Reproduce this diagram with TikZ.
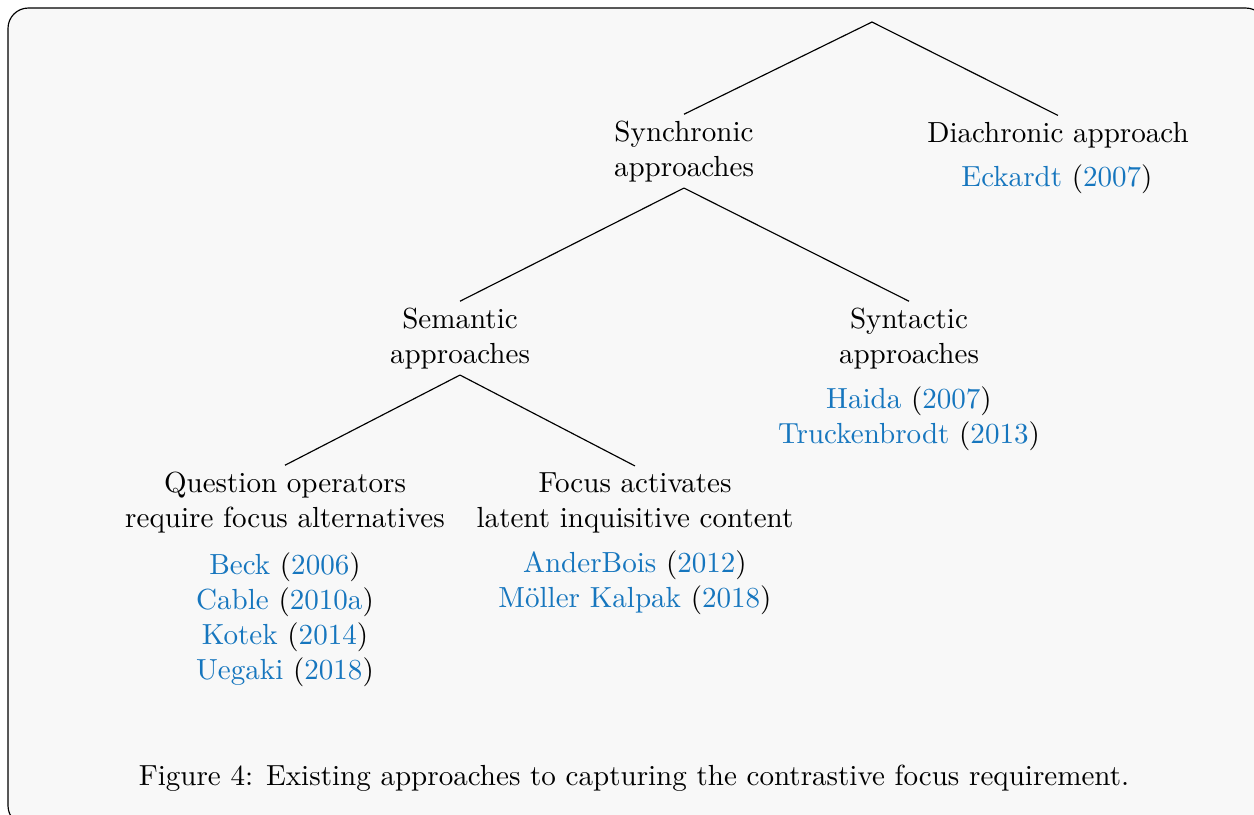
\documentclass[tikz,border=0pt]{standalone}
\usepackage{tikz}
\usetikzlibrary{calc}

\definecolor{sfondo}{RGB}{248,248,248}
\definecolor{citeblue}{RGB}{22,118,190}

\begin{document}
\begin{tikzpicture}[x=0.344pt,y=-0.344pt,
  etichetta/.style={align=center,inner sep=2pt,anchor=base},
  citazioni/.style={align=center,inner sep=2pt,anchor=base}]

%Citazione: autore e anno in blu, parentesi in nero
\def\rif(#1,#2){\textcolor{citeblue}{#1} (\textcolor{citeblue}{#2})}

%Cornice arrotondata (tagliata a destra e in basso)
\useasboundingbox (0,0) rectangle (1254,814);
\clip (0,0) rectangle (1254,814);
\draw[fill=sfondo,line width=0.4pt,rounded corners=7pt] (8,8) rectangle (1266,826);

%Radice dell'albero
\coordinate (radice) at (872,22);

%Primo livello (la y e' la linea di base dell'ultima riga)
\node[etichetta] (sincr) at (684,176) {Synchronic\\approaches};
\node[etichetta] (diacr) at (1058,142) {Diachronic approach};
\node[citazioni] (diacrrif) at (1057,186) {\rif(Eckardt,2007)};

%Secondo livello
\node[etichetta] (sem) at (460,363) {Semantic\\approaches};
\node[etichetta] (sint) at (909,363) {Syntactic\\approaches};
\node[citazioni] (sintrif) at (909,443) {\rif(Haida,2007)\\\rif(Truckenbrodt,2013)};

%Terzo livello
\node[etichetta] (domande) at (285,527) {Question operators\\require focus alternatives};
\node[citazioni] (domanderif) at (285,679) {\rif(Beck,2006)\\\rif(Cable,2010a)\\\rif(Kotek,2014)\\\rif(Uegaki,2018)};
\node[etichetta] (focus) at (635,527) {Focus activates\\latent inquisitive content};
\node[citazioni] (focusrif) at (635,607) {\rif(AnderBois,2012)\\\rif(M\"oller Kalpak,2018)};

%Disegna i rami
\draw[line width=0.4pt] (radice) -- (sincr.north);
\draw[line width=0.4pt] (radice) -- (diacr.north);
\draw[line width=0.4pt] (sincr.south) -- (sem.north);
\draw[line width=0.4pt] (sincr.south) -- (sint.north);
\draw[line width=0.4pt] (sem.south) -- (domande.north);
\draw[line width=0.4pt] (sem.south) -- (focus.north);

%Didascalia
\node[anchor=base] (didascalia) at (634,785) {Figure 4: Existing approaches to capturing the contrastive focus requirement.};

\end{tikzpicture}
\end{document}
